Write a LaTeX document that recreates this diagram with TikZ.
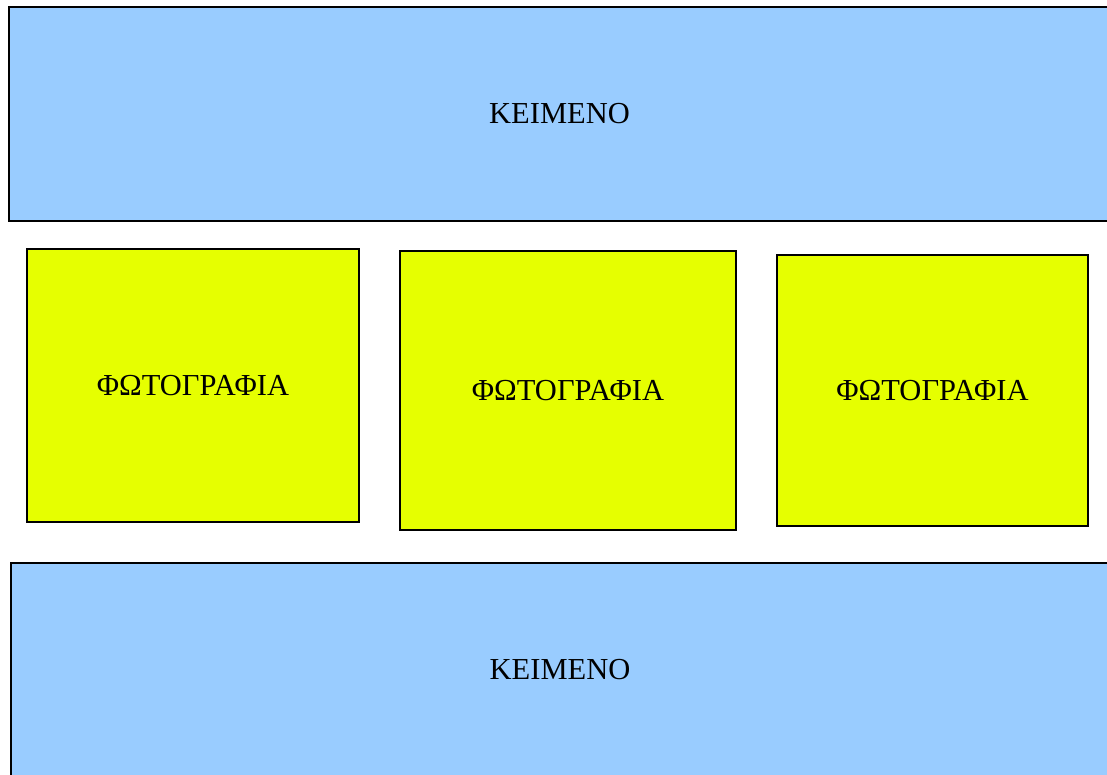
\documentclass[tikz,border=0pt]{standalone}
\usepackage{fontspec}
\setmainfont{Liberation Serif}
\definecolor{boxblue}{HTML}{99CCFF}
\definecolor{boxyellow}{HTML}{E6FF00}
\begin{document}
\begin{tikzpicture}[x=1pt,y=-1pt,
  panel/.style={draw=black,line width=1.3pt,inner sep=0pt,
    font=\fontsize{30.5}{36}\selectfont},
  textpanel/.style={panel,fill=boxblue},
  photopanel/.style={panel,fill=boxyellow}]
\useasboundingbox (0,0) rectangle (1107,775);
\clip (0,0) rectangle (1107,775);
\node[textpanel,minimum width=1101pt,minimum height=214pt] (top) at (559.5,114) {ΚΕΙΜΕΝΟ};
\node[photopanel,minimum width=332pt,minimum height=273pt] (p1) at (193,385.5) {ΦΩΤΟΓΡΑΦΙΑ};
\node[photopanel,minimum width=336pt,minimum height=279pt] (p2) at (568,390.5) {ΦΩΤΟΓΡΑΦΙΑ};
\node[photopanel,minimum width=311pt,minimum height=271pt] (p3) at (932.5,390.5) {ΦΩΤΟΓΡΑΦΙΑ};
\node[textpanel,minimum width=1098pt,minimum height=214pt] (bottom) at (560,670) {ΚΕΙΜΕΝΟ};
\end{tikzpicture}
\end{document}
